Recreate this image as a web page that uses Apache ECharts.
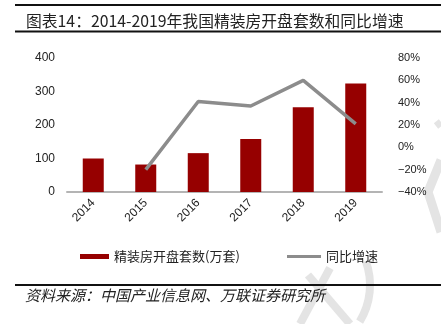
<!DOCTYPE html>
<html>
<head>
<meta charset="utf-8">
<script src="https://cdn.jsdelivr.net/npm/echarts@6/dist/echarts.min.js"></script>
<style>
  html, body { margin: 0; padding: 0; background: #fff; }
  #chart { width: 441px; height: 324px; }
</style>
</head>
<body>
<div id="chart"></div>
<script>
// Fine-decoration housing openings (10k units) and year-on-year growth (%)
const years = ['2014', '2015', '2016', '2017', '2018', '2019'];
const openings = [100, 82, 116, 158, 253, 324];
const growth = [null, -20, 41, 37, 60, 21];
const leftTicks = { min: 0, max: 400, interval: 100 };
const rightTicks = { min: -40, max: 80, interval: 20 };

const titleText = '图表14：2014-2019年我国精装房开盘套数和同比增速';
const sourceText = '资料来源：中国产业信息网、万联证券研究所';
const barName = '精装房开盘套数(万套)';
const lineName = '同比增速';

const CJK = '"Noto Sans CJK SC", "Noto Sans", sans-serif';
const LATIN = '"Liberation Sans", Arial, sans-serif';

const chart = echarts.init(document.getElementById('chart'), null, { renderer: 'canvas' });

const wm = '#e4e4e4';
const legendText = { fontFamily: CJK, fontSize: 13, color: '#222' };

chart.setOption({
  animation: false,
  backgroundColor: '#fff',
  title: {
    text: titleText,
    left: 21,
    top: 8,
    textStyle: { fontFamily: CJK, fontSize: 15.8, fontWeight: 'normal', color: '#222' }
  },
  graphic: [
    // faint watermark strokes
    { type: 'polyline', z: 0, shape: { points: [[441, 160], [428, 192], [441, 232]] }, style: { stroke: wm, lineWidth: 9, fill: null } },
    { type: 'line', z: 0, shape: { x1: 436, y1: 126, x2: 441, y2: 122 }, style: { stroke: wm, lineWidth: 7 } },
    { type: 'line', z: 0, shape: { x1: 300, y1: 324, x2: 330, y2: 268 }, style: { stroke: wm, lineWidth: 8 } },
    { type: 'line', z: 0, shape: { x1: 308, y1: 275, x2: 350, y2: 324 }, style: { stroke: wm, lineWidth: 8 } },
    { type: 'arc', z: 0, shape: { cx: 300, cy: 285, r: 70, startAngle: -0.35, endAngle: 0.55 }, style: { stroke: wm, lineWidth: 8, fill: null } },
    // rules framing the title and the source note
    { type: 'line', shape: { x1: 15, y1: 5, x2: 441, y2: 5 }, style: { stroke: '#111', lineWidth: 2 } },
    { type: 'line', shape: { x1: 15, y1: 31.5, x2: 441, y2: 31.5 }, style: { stroke: '#111', lineWidth: 2 } },
    { type: 'line', shape: { x1: 15, y1: 285, x2: 441, y2: 285 }, style: { stroke: '#111', lineWidth: 2 } },
    {
      type: 'text', left: 25, top: 288,
      style: { text: sourceText, font: 'italic 15px ' + CJK, fill: '#222' }
    }
  ],
  legend: [
    {
      data: [barName],
      left: 80, top: 250, padding: 0,
      icon: 'rect', itemWidth: 29, itemHeight: 5,
      textStyle: legendText
    },
    {
      data: [lineName],
      left: 287, top: 250, padding: 0,
      icon: 'rect', itemWidth: 34, itemHeight: 3,
      textStyle: legendText
    }
  ],
  grid: { left: 67, right: 59, top: 58, bottom: 132 },
  xAxis: {
    type: 'category',
    data: years,
    axisLine: { lineStyle: { color: '#b4b4b4', width: 2 } },
    axisTick: { show: false },
    axisLabel: {
      rotate: 45, margin: 9, color: '#222',
      fontFamily: LATIN, fontSize: 12
    }
  },
  yAxis: [
    {
      type: 'value',
      min: leftTicks.min, max: leftTicks.max, interval: leftTicks.interval,
      splitLine: { show: false },
      axisLine: { show: false },
      axisTick: { show: false },
      axisLabel: { margin: 12, color: '#222', fontFamily: LATIN, fontSize: 12 }
    },
    {
      type: 'value',
      min: rightTicks.min, max: rightTicks.max, interval: rightTicks.interval,
      splitLine: { show: false },
      axisLine: { show: false },
      axisTick: { show: false },
      axisLabel: {
        margin: 16, color: '#222', fontFamily: LATIN, fontSize: 11,
        formatter: v => (v < 0 ? '\u2212' + Math.abs(v) : v) + '%'
      }
    }
  ],
  series: [
    {
      name: barName,
      type: 'bar',
      data: openings,
      barWidth: 21,
      itemStyle: { color: '#960000' }
    },
    {
      name: lineName,
      type: 'line',
      yAxisIndex: 1,
      data: growth,
      symbol: 'none',
      lineStyle: { color: '#8c8c8c', width: 3.5 },
      itemStyle: { color: '#8c8c8c' }
    }
  ]
});
</script>
</body>
</html>
